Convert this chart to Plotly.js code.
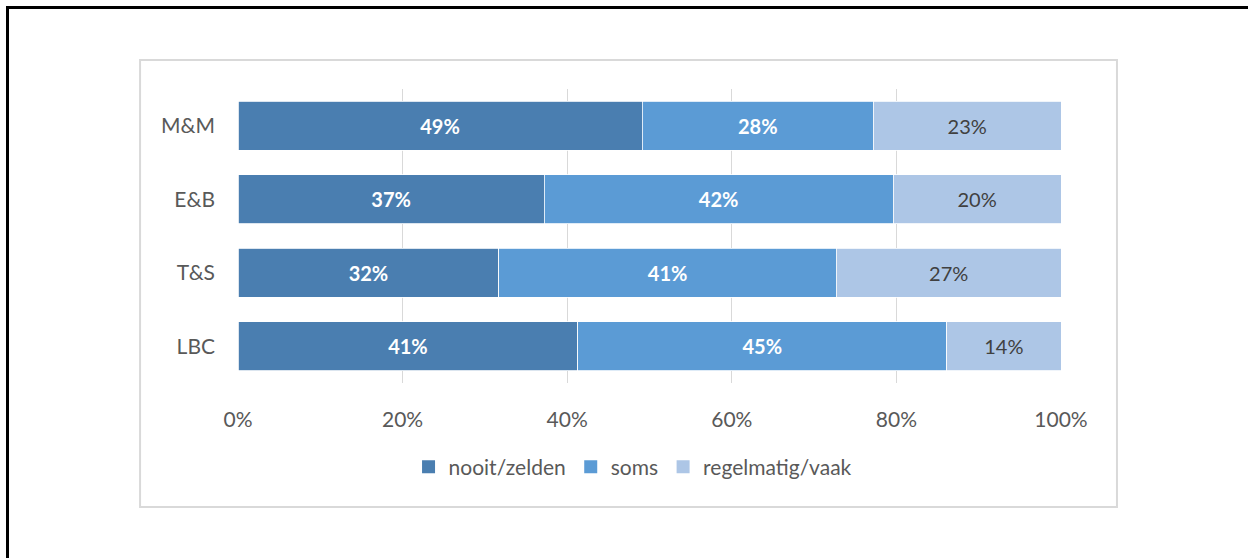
<!DOCTYPE html>
<html>
<head>
<meta charset="utf-8">
<script src="https://cdn.plot.ly/plotly-3.0.1.min.js"></script>
<style>
html,body{margin:0;padding:0;background:#fff;overflow:hidden;width:1248px;height:558px;}
#wrap{position:relative;width:1248px;height:558px;overflow:hidden;}
#frame{position:absolute;left:6px;top:6px;width:1400px;height:700px;border-left:3px solid #000;border-top:3px solid #000;pointer-events:none;z-index:2;}
#chart{position:absolute;left:0;top:0;width:1248px;height:558px;}
</style>
</head>
<body>
<div id="wrap">
<div id="chart"></div>
<div id="frame"></div>
</div>
<script>
const categories = ["M&M", "E&B", "T&S", "LBC"];
const seriesNames = ["nooit/zelden", "soms", "regelmatig/vaak"];
const nooitZelden = [49.1, 37.2, 31.7, 41.3];
const soms = [28.1, 42.4, 41.0, 44.8];
const regelmatigVaak = [22.8, 20.4, 27.3, 13.9];
const xTickValues = [0, 20, 40, 60, 80, 100];
const xTickLabels = ["0%", "20%", "40%", "60%", "80%", "100%"];

const colors = ["#4a7eb0", "#5b9bd5", "#adc6e6"];
const textColors = ["#ffffff", "#ffffff", "#404040"];
const textWeights = ["bold", "bold", "normal"];
const FONT = "Lato, 'Open Sans', sans-serif";

const seriesValues = [nooitZelden, soms, regelmatigVaak];
const barTraces = seriesValues.map((vals, i) => ({
  type: "bar",
  orientation: "h",
  name: seriesNames[i],
  y: categories,
  x: vals,
  showlegend: false,
  marker: {color: colors[i], line: {color: "#ffffff", width: 0.8}},
  text: vals.map(v => Math.round(v) + "%"),
  textposition: "inside",
  insidetextanchor: "middle",
  textangle: 0,
  constraintext: "none",
  textfont: {family: FONT, size: 20, color: textColors[i], weight: textWeights[i]},
  hoverinfo: "name+x"
}));
const legendTraces = seriesNames.map((n, i) => ({
  type: "scatter",
  mode: "markers",
  name: n,
  x: [null],
  y: [null],
  marker: {symbol: "square", size: 13, color: colors[i]},
  showlegend: true,
  hoverinfo: "skip"
}));

const layout = {
  width: 1248,
  height: 558,
  margin: {l: 238, r: 187, t: 89, b: 175},
  paper_bgcolor: "rgba(0,0,0,0)",
  plot_bgcolor: "#ffffff",
  barmode: "stack",
  bargap: 0.33,
  font: {family: FONT, size: 21, color: "#595959"},
  showlegend: true,
  legend: {
    orientation: "h",
    x: 0.48, xanchor: "center",
    y: -0.286, yanchor: "middle",
    font: {family: FONT, size: 21, color: "#595959"},
    itemwidth: 30,
    traceorder: "normal"
  },
  xaxis: {
    range: [0, 100],
    tickvals: xTickValues,
    ticktext: xTickLabels,
    showgrid: true,
    gridcolor: "#d9d9d9",
    gridwidth: 1,
    zeroline: false,
    showline: false,
    ticks: "",
    ticklabelstandoff: 22,
    tickfont: {family: FONT, size: 21, color: "#595959"},
    fixedrange: true
  },
  yaxis: {
    type: "category",
    categoryorder: "array",
    categoryarray: categories.slice().reverse(),
    range: [-0.5, 3.5],
    showgrid: false,
    zeroline: false,
    showline: false,
    ticks: "",
    ticklabelstandoff: 22,
    tickfont: {family: FONT, size: 21, color: "#595959"},
    fixedrange: true
  },
  shapes: [
    {type: "rect", xref: "paper", yref: "paper", x0: -0.119, x1: 1.068, y0: -0.422, y1: 1.099,
     line: {color: "#d9d9d9", width: 2}, fillcolor: "rgba(0,0,0,0)", layer: "below"}
  ]
};

Plotly.newPlot("chart", barTraces.concat(legendTraces), layout, {displayModeBar: false, staticPlot: true});
</script>
</body>
</html>
